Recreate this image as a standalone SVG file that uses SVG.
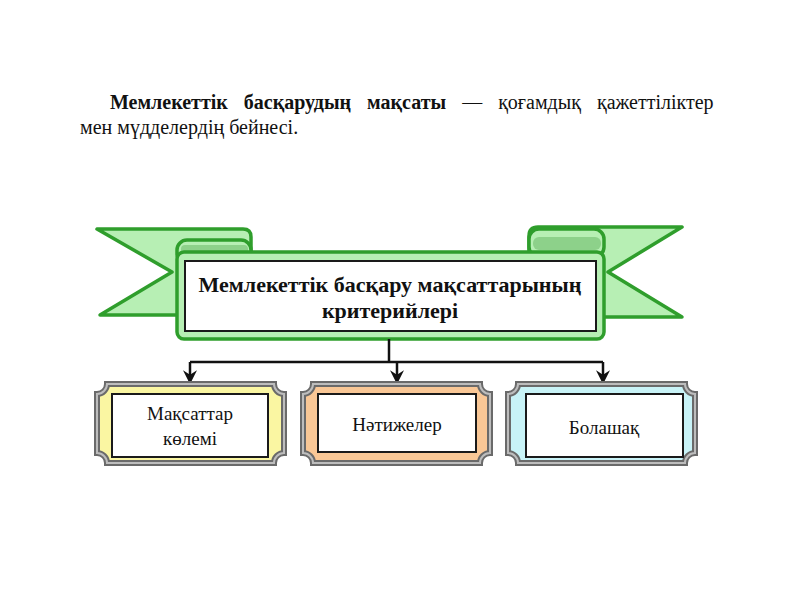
<svg xmlns="http://www.w3.org/2000/svg" width="800" height="600" viewBox="0 0 800 600">
<style>
.txt{font-family:"Liberation Serif","Times New Roman",serif;fill:#111}
.ttl{font-size:22px;font-weight:bold;text-anchor:middle}
.lbl{font-size:19px;text-anchor:middle}
.top{font-size:20px}
.grn{fill:#b7efb4;stroke:#2f9e2c;stroke-width:3.5;stroke-linejoin:round}
.pl-out{stroke:#6a6a6a;stroke-width:6}
.pl-in{fill:none;stroke:#bdbdbd;stroke-width:2}
.inner{fill:#fff;stroke:#1a1a1a;stroke-width:2}
.conn{fill:none;stroke:#111;stroke-width:2.5}
</style>
<defs>
<marker id="arr" viewBox="0 0 12 12" refX="11" refY="6" markerWidth="14" markerHeight="14" markerUnits="userSpaceOnUse" orient="auto">
<path d="M0,0 L12,6 L0,12 L4,6 Z" fill="#111"/>
</marker>
</defs>
<rect width="800" height="600" fill="#fff"/>

<g id="intro">
<text class="txt top" x="110" y="109" word-spacing="11"><tspan font-weight="bold">Мемлекеттік басқарудың мақсаты</tspan> — қоғамдық қажеттіліктер</text>
<text class="txt top" x="80" y="134">мен мүдделердің бейнесі.</text>
</g>

<g id="banner">
<path class="grn" d="M97,229 L243,229 Q251,229 251,237 L251,254 L186,254 L186,315 L100,315 L172,272 Z"/>
<path class="grn" d="M682,227 L538,227 Q529,227 529,236 L529,254 L595,254 L595,317 L682,317 L608,272 Z"/>
<rect class="grn" x="177" y="240" width="74" height="24" rx="10"/>
<rect x="181" y="245" width="67" height="9" rx="4" fill="#8dd18a"/>
<rect class="grn" x="529" y="229" width="75" height="28" rx="10"/>
<rect x="533" y="237" width="68" height="13" rx="6" fill="#8dd18a"/>
<rect class="grn" x="177" y="252" width="427" height="87" rx="7"/>
<rect class="inner" x="185" y="261" width="411" height="70"/>
<text class="txt ttl" x="390" y="292">Мемлекеттік басқару мақсаттарының</text>
<text class="txt ttl" x="390" y="318">критерийлері</text>
</g>

<g id="connectors">
<path class="conn" d="M389,339 V362"/>
<path class="conn" d="M190,362 H603"/>
<path class="conn" d="M190,362 V383" marker-end="url(#arr)"/>
<path class="conn" d="M397,362 V383" marker-end="url(#arr)"/>
<path class="conn" d="M603,362 V383" marker-end="url(#arr)"/>
</g>

<g id="box1">
<path class="pl-out" fill="#faf6a2" d="M107,384 L274,384 A10,10 0 0 0 284,394 L284,453 A10,10 0 0 0 274,463 L107,463 A10,10 0 0 0 97,453 L97,394 A10,10 0 0 0 107,384 Z"/>
<path class="pl-in" d="M107,384 L274,384 A10,10 0 0 0 284,394 L284,453 A10,10 0 0 0 274,463 L107,463 A10,10 0 0 0 97,453 L97,394 A10,10 0 0 0 107,384 Z"/>
<rect class="inner" x="112" y="394" width="156" height="63"/>
<text class="txt lbl" x="190" y="420">Мақсаттар</text>
<text class="txt lbl" x="190" y="445">көлемі</text>
</g>

<g id="box2">
<path class="pl-out" fill="#f9c796" d="M313,384 L480,384 A10,10 0 0 0 490,394 L490,453 A10,10 0 0 0 480,463 L313,463 A10,10 0 0 0 303,453 L303,394 A10,10 0 0 0 313,384 Z"/>
<path class="pl-in" d="M313,384 L480,384 A10,10 0 0 0 490,394 L490,453 A10,10 0 0 0 480,463 L313,463 A10,10 0 0 0 303,453 L303,394 A10,10 0 0 0 313,384 Z"/>
<rect class="inner" x="318" y="394" width="158" height="58"/>
<text class="txt lbl" x="397" y="431">Нәтижелер</text>
</g>

<g id="box3">
<path class="pl-out" fill="#c8f3f7" d="M518,384 L685,384 A10,10 0 0 0 695,394 L695,453 A10,10 0 0 0 685,463 L518,463 A10,10 0 0 0 508,453 L508,394 A10,10 0 0 0 518,384 Z"/>
<path class="pl-in" d="M518,384 L685,384 A10,10 0 0 0 695,394 L695,453 A10,10 0 0 0 685,463 L518,463 A10,10 0 0 0 508,453 L508,394 A10,10 0 0 0 518,384 Z"/>
<rect class="inner" x="526" y="394" width="157" height="63"/>
<text class="txt lbl" x="604" y="434">Болашақ</text>
</g>
</svg>
